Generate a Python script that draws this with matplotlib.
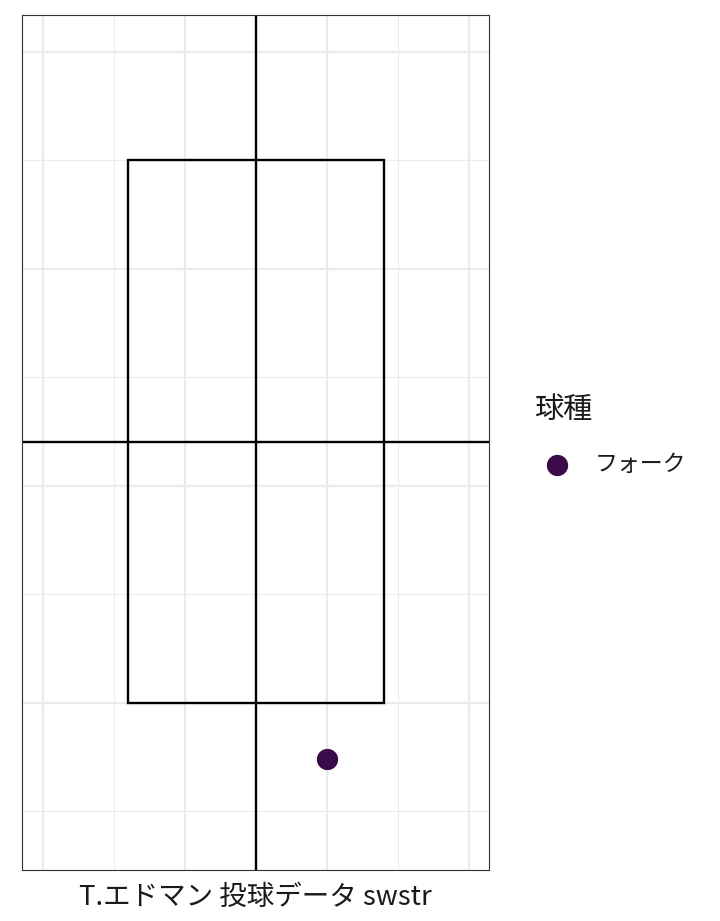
import matplotlib
matplotlib.use("Agg")
import matplotlib.pyplot as plt
from matplotlib.patches import Rectangle
import numpy as np

plt.rcParams['font.family'] = ['Noto Sans CJK JP', 'DejaVu Sans']

# 投球データ (plate_x, plate_z)
pitch_type = ['フォーク']
plate_x = [0.5]
plate_z = [0.74]
point_color = '#3b0a48'

# ストライクゾーン
zone_left, zone_right = -0.9, 0.9
zone_bottom, zone_top = 1.0, 3.5
center_x = 0.0
center_z = 2.2

x_lim = (-1.648, 1.641)
z_lim = (0.23, 4.17)
x_major = [-1.5, -0.5, 0.5, 1.5]
x_minor = [-1.0, 0.0, 1.0]
z_major = [1, 2, 3, 4]
z_minor = [0.5, 1.5, 2.5, 3.5]

fig = plt.figure(figsize=(7.2, 9.21), dpi=100)
ax = fig.add_axes([22 / 720, 1 - 870 / 921, 467 / 720, 855 / 921])

# グリッド
for v in x_major:
    ax.axvline(v, color='#ebebeb', lw=1.6, zorder=0)
for v in x_minor:
    ax.axvline(v, color='#ebebeb', lw=0.8, zorder=0)
for v in z_major:
    ax.axhline(v, color='#ebebeb', lw=1.6, zorder=0)
for v in z_minor:
    ax.axhline(v, color='#ebebeb', lw=0.8, zorder=0)

ax.add_patch(Rectangle((zone_left, zone_bottom), zone_right - zone_left,
                       zone_top - zone_bottom, fill=False, ec='black', lw=1.7, zorder=2))
ax.axvline(center_x, color='black', lw=1.7, zorder=2)
ax.axhline(center_z, color='black', lw=1.7, zorder=2)

for i, name in enumerate(pitch_type):
    ax.scatter(plate_x[i], plate_z[i], s=235, color=point_color, zorder=3,
               label=name, linewidths=0)

ax.set_xlim(*x_lim)
ax.set_ylim(*z_lim)
ax.set_xticks([])
ax.set_yticks([])
for s in ax.spines.values():
    s.set_color('#333333')
    s.set_linewidth(0.8)

ax.set_xlabel('T.エドマン 投球データ swstr', fontsize=19.8, labelpad=10, color='#1a1a1a')

leg = ax.legend(title='球種', loc='upper left', bbox_to_anchor=(525 / 720, 1 - 386 / 921),
                bbox_transform=fig.transFigure, frameon=False, fontsize=16.5,
                title_fontsize=21, handletextpad=0.65, labelspacing=1.2,
                alignment='left', borderaxespad=0)
leg.get_title().set_color('#1a1a1a')
for t in leg.get_texts():
    t.set_color('#1a1a1a')

fig.savefig('out.png', dpi=100)
